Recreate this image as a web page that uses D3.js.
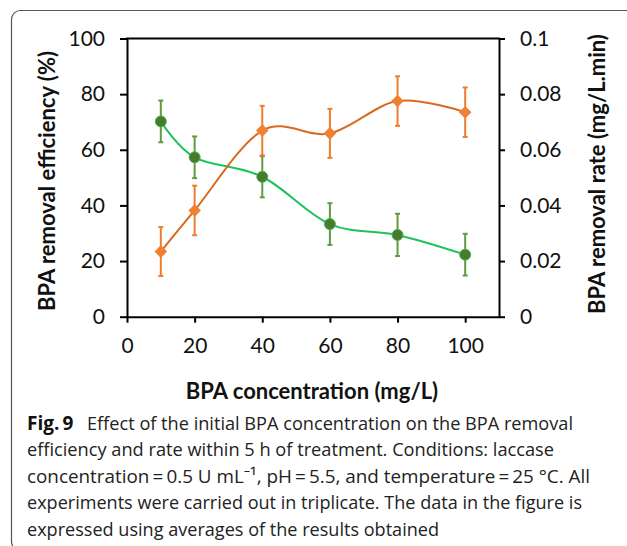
<!DOCTYPE html>
<html>
<head>
<meta charset="utf-8">
<script src="https://cdn.jsdelivr.net/npm/d3@7"></script>
<style>
  body { margin: 0; background: #fff; }
  svg { display: block; }
</style>
</head>
<body>
<div id="chart"></div>
<script>
// values
const concentration = [10, 20, 40, 60, 80, 100];
const efficiency = [70.2, 57.3, 50.3, 33.3, 29.4, 22.3];
const efficiencyErr = [7.5, 7.5, 7.4, 7.5, 7.6, 7.5];
const rate = [0.0234, 0.0382, 0.0669, 0.0659, 0.0775, 0.0735];
const rateErr = [0.0088, 0.0089, 0.0089, 0.0088, 0.0089, 0.0089];

const xTicks = [0, 20, 40, 60, 80, 100];
const leftTicks = [0, 20, 40, 60, 80, 100];
const rightTicks = [0, 0.02, 0.04, 0.06, 0.08, 0.1];
const rightTickLabels = ["0", "0.02", "0.04", "0.06", "0.08", "0.1"];

const captionLines = [
    "efficiency and rate within 5 h of treatment. Conditions: laccase",
    "concentration\u2009=\u20090.5 U mL\u207b\u00b9, pH\u2009=\u20095.5, and temperature\u2009=\u200925 \u00b0C. All",
    "experiments were carried out in triplicate. The data in the figure is",
    "expressed using averages of the results obtained"
];

const w = 627, h = 546;
const plotLeft = 127, plotRight = 499, plotTop = 38.5, plotBottom = 316.7;

const svg = d3.select('#chart')
    .append('svg')
    .attr('width', w)
    .attr('height', h);

// frame round the figure
svg.append('rect')
    .attr('x', 11.5).attr('y', 10.5)
    .attr('width', 640).attr('height', 540)
    .attr('rx', 9)
    .attr('fill', 'none')
    .attr('stroke', '#555')
    .attr('stroke-width', 1.2);

const xScale = d3.scaleLinear().domain([0, 110]).range([plotLeft, plotRight]);
const yLeft = d3.scaleLinear().domain([0, 100]).range([plotBottom, plotTop]);
const yRight = d3.scaleLinear().domain([0, 0.1]).range([plotBottom, plotTop]);

const tickFont = 'Lato, "Open Sans", sans-serif';

const styleAxis = g => {
    g.select('.domain').attr('stroke', '#000').attr('stroke-width', 2);
    g.selectAll('.tick line').attr('stroke', '#000').attr('stroke-width', 2);
    g.selectAll('.tick text')
        .attr('fill', '#111')
        .style('font-family', tickFont)
        .style('font-size', '21px');
};

svg.append('g')
    .attr('id', 'x-axis')
    .attr('transform', `translate(0,${plotBottom})`)
    .call(d3.axisBottom(xScale).tickValues(xTicks).tickSize(6).tickPadding(15).tickSizeOuter(0))
    .call(styleAxis);

svg.append('g')
    .attr('id', 'y-axis')
    .attr('transform', `translate(${plotLeft},0)`)
    .call(d3.axisLeft(yLeft).tickValues(leftTicks).tickSize(7).tickPadding(15).tickSizeOuter(0))
    .call(styleAxis);

svg.append('g')
    .attr('id', 'y-axis-right')
    .attr('transform', `translate(${plotRight},0)`)
    .call(d3.axisRight(yRight).tickValues(rightTicks).tickSize(6).tickPadding(15)
        .tickSizeOuter(0).tickFormat((d, i) => rightTickLabels[i]))
    .call(styleAxis);

// top line of the plot frame
svg.append('line')
    .attr('x1', plotLeft - 1).attr('x2', plotRight + 1)
    .attr('y1', plotTop).attr('y2', plotTop)
    .attr('stroke', '#000').attr('stroke-width', 2);

// axis titles
const titleStyle = sel => sel
    .attr('font-family', tickFont)
    .attr('font-weight', 'bold')
    .attr('font-size', 22)
    .attr('fill', '#111')
    .attr('text-anchor', 'middle');

svg.append('text')
    .call(titleStyle)
    .attr('x', 312).attr('y', 399)
    .text('BPA concentration (mg/L)');

svg.append('text')
    .call(titleStyle)
    .attr('transform', 'translate(55,181) rotate(-90)')
    .text('BPA removal efficiency (%)');

svg.append('text')
    .call(titleStyle)
    .attr('transform', 'translate(605,174) rotate(-90)')
    .text('BPA removal rate (mg/L.min)');

// series
const effData = concentration.map((c, i) => ({ x: c, y: efficiency[i], e: efficiencyErr[i] }));
const rateData = concentration.map((c, i) => ({ x: c, y: rate[i], e: rateErr[i] }));

const drawSeries = (data, yScale, opt) => {
    const g = svg.append('g');
    g.append('path')
        .datum(data)
        .attr('fill', 'none')
        .attr('stroke', opt.line)
        .attr('stroke-width', 2)
        .attr('d', d3.line()
            .x(d => xScale(d.x))
            .y(d => yScale(d.y))
            .curve(d3.curveCardinal.tension(0)));

    const bars = g.selectAll('.err')
        .data(data)
        .enter()
        .append('g')
        .attr('class', 'err')
        .attr('stroke', opt.err)
        .attr('stroke-width', 2);
    bars.append('line')
        .attr('x1', d => xScale(d.x)).attr('x2', d => xScale(d.x))
        .attr('y1', d => yScale(d.y - d.e)).attr('y2', d => yScale(d.y + d.e));
    bars.append('line')
        .attr('x1', d => xScale(d.x) - 2.5).attr('x2', d => xScale(d.x) + 2.5)
        .attr('y1', d => yScale(d.y + d.e)).attr('y2', d => yScale(d.y + d.e));
    bars.append('line')
        .attr('x1', d => xScale(d.x) - 2.5).attr('x2', d => xScale(d.x) + 2.5)
        .attr('y1', d => yScale(d.y - d.e)).attr('y2', d => yScale(d.y - d.e));

    g.selectAll('.mark')
        .data(data)
        .enter()
        .append('path')
        .attr('class', 'mark')
        .attr('d', d3.symbol().type(opt.symbol).size(opt.size))
        .attr('transform', d => `translate(${xScale(d.x)},${yScale(d.y)}) rotate(${opt.rotate})`)
        .attr('fill', opt.fill)
        .attr('stroke', opt.stroke)
        .attr('stroke-width', 1);
};

drawSeries(effData, yLeft, {
    line: '#1fc25a', err: '#629a3e', symbol: d3.symbolCircle, size: 95, rotate: 0,
    fill: '#4a7a2a', stroke: '#3cb85c'
});
drawSeries(rateData, yRight, {
    line: '#d9691f', err: '#ee7d30', symbol: d3.symbolSquare, size: 62, rotate: 45,
    fill: '#f08032', stroke: '#f08032'
});

// caption
const capFont = '"Open Sans", "Noto Sans", sans-serif';
const cap = svg.append('g')
    .attr('font-family', capFont)
    .attr('font-size', 19)
    .attr('fill', '#222');

const l1 = cap.append('text').attr('x', 27).attr('y', 429.5);
l1.append('tspan').attr('font-weight', 'bold').attr('fill', '#111').text('Fig.\u20099');
cap.append('text')
    .attr('x', 87).attr('y', 429.5)
    .attr('textLength', 486).attr('lengthAdjust', 'spacingAndGlyphs')
    .text('Effect of the initial BPA concentration on the BPA removal');

const lineEnds = [554, 590, 582, 439];
const baselines = [456, 482.5, 509, 535.5];

captionLines.forEach((t, i) => {
    cap.append('text')
        .attr('x', 27).attr('y', baselines[i])
        .attr('textLength', lineEnds[i] - 27)
        .attr('lengthAdjust', 'spacingAndGlyphs')
        .text(t);
});
</script>
</body>
</html>
